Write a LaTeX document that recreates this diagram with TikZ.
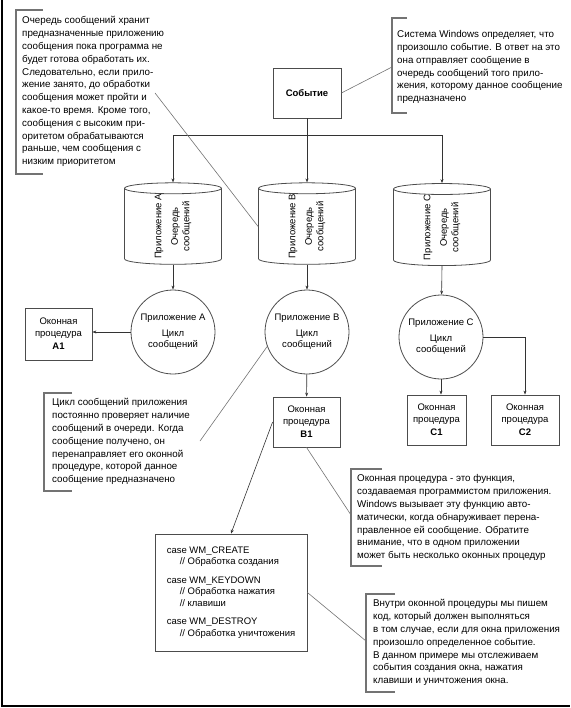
\documentclass[tikz,border=0pt]{standalone}
\usepackage{fontspec}
\setmainfont{Liberation Sans}
\usetikzlibrary{shapes.geometric,arrows.meta}
\tikzset{box/.style={draw=black!70, line width=.8pt, align=center, inner sep=0pt}}
\tikzset{proc/.style={box, minimum height=50pt}}
\tikzset{loop/.style={draw=black!70, line width=.8pt, circle, minimum size=84pt, inner sep=0pt, align=center}}
\tikzset{queue/.style={draw=black!70, line width=.8pt, cylinder, rotate=90, minimum width=97pt, minimum height=59pt, aspect=.3, inner sep=0pt, align=center}}
\tikzset{note/.style={anchor=north west, inner sep=0pt, align=left, font=\fontsize{9.8}{12.8}\selectfont}}
\tikzset{bracket/.style={draw=black!55, line width=1.3pt}}
\tikzset{callout/.style={draw=black!55, line width=.6pt}}
\tikzset{edge/.style={draw=black!80, line width=.6pt, -{Stealth[length=4pt,width=3pt]}}}

\begin{document}
\begin{tikzpicture}[x=1pt, y=-1pt, font=\fontsize{9.5}{11.5}\selectfont]
  \useasboundingbox (0,0) rectangle (570,708);
  \draw[line width=1.5pt] (2,0) -- (2,706) -- (570,706);

  \node[box, minimum width=68pt, minimum height=50pt] (event) at (307,93) {\textbf{Событие}};
  \coordinate (bar) at (0,135);

  \node[queue] (qA) at (173,226.5) {Приложение A\\[5pt]Очередь\\сообщений};
  \node[queue] (qB) at (307,226.5) {Приложение B\\[5pt]Очередь\\сообщений};
  \node[queue] (qC) at (442,227.5) {Приложение C\\[5pt]Очередь\\сообщений};

  \node[loop] (loopA) at (173,332) {Приложение A\\[4pt]Цикл\\сообщений};
  \node[loop] (loopB) at (307,332) {Приложение B\\[4pt]Цикл\\сообщений};
  \node[loop] (loopC) at (441,337) {Приложение C\\[4pt]Цикл\\сообщений};

  \node[proc, minimum width=67pt, minimum height=52pt] (procA1) at (58.5,334) {Оконная\\процедура\\[2pt]\textbf{A1}};
  \node[proc, minimum width=67pt] (procB1) at (306.5,422) {Оконная\\процедура\\[2pt]\textbf{B1}};
  \node[proc, minimum width=59pt] (procC1) at (436.5,420) {Оконная\\процедура\\[2pt]\textbf{C1}};
  \node[proc, minimum width=68pt] (procC2) at (525,420) {Оконная\\процедура\\[2pt]\textbf{C2}};

  \node[box, minimum width=152pt, minimum height=117pt, align=left] (code) at (231,592.5)
    {case WM\_CREATE\\\hspace*{13pt}// Обработка создания\\[7pt]
     case WM\_KEYDOWN\\\hspace*{13pt}// Обработка нажатия\\\hspace*{13pt}// клавиши\\[7pt]
     case WM\_DESTROY\\\hspace*{13pt}// Обработка уничтожения};

  \draw[edge] (event.south) -- (qB.top);
  \draw[edge] (event.south) -- (event.south |- bar) -| (qA.top);
  \draw[edge] (event.south) -- (event.south |- bar) -| (qC.top);
  \draw[edge] (qA.bottom) -- (loopA);
  \draw[edge] (qB.bottom) -- (loopB);
  \draw[edge] (qC.bottom) -- (loopC);
  \draw[edge] (loopA.west) -- (procA1.east |- loopA.west);
  \draw[edge] (loopB) -- (procB1);
  \draw[edge] (loopC.south) -- (procC1.north -| loopC.south);
  \draw[edge] (loopC.east) -| (procC2.north);
  \draw[edge] (procB1.west) -- (code.north);

  \node[note] (noteQueue) at (22,16.5) {Очередь сообщений хранит\\предназначенные приложению\\сообщения пока программа не\\будет готова обработать их.\\Следовательно, если прило-\\жение занято, до обработки\\сообщения может пройти и\\какое-то время. Кроме того,\\сообщения с высоким при-\\оритетом обрабатываются\\раньше, чем сообщения с\\низким приоритетом};
  \draw[bracket] (43,10) -- (16,10) -- (16,174) -- (43,174);
  \coordinate (tipQueue) at (155,93);
  \draw[callout] (tipQueue) -- (qB.north);

  \node[note] (noteEvent) at (397,30.5) {Система Windows определяет, что\\произошло событие. В ответ на это\\она отправляет сообщение в\\очередь сообщений того прило-\\жения, которому данное сообщение\\предназначено};
  \draw[bracket] (407,18) -- (392,18) -- (392,113) -- (407,113);
  \coordinate (tipEvent) at (392,67);
  \draw[callout] (event.east) -- (tipEvent);

  \node[note] (noteLoop) at (52,398.5) {Цикл сообщений приложения\\постоянно проверяет наличие\\сообщений в очереди. Когда\\сообщение получено, он\\перенаправляет его оконной\\процедуре, которой данное\\сообщение предназначено};
  \draw[bracket] (72,393) -- (44,393) -- (44,491) -- (72,491);
  \coordinate (tipLoop) at (200,441);
  \draw[callout] (tipLoop) -- (loopB.200);

  \node[note] (noteProc) at (357,474.5) {Оконная процедура - это функция,\\создаваемая программистом приложения.\\Windows вызывает эту функцию авто-\\матически, когда обнаруживает перена-\\правленное ей сообщение. Обратите\\внимание, что в одном приложении\\может быть несколько оконных процедур};
  \draw[bracket] (382,469) -- (351,469) -- (351,566) -- (382,566);
  \coordinate (tipProc) at (351,515);
  \draw[callout] (procB1.south) -- (tipProc);

  \node[note] (noteCode) at (373,599.5) {Внутри оконной процедуры мы пишем\\код, который должен выполняться\\в том случае, если для окна приложения\\произошло определенное событие.\\В данном примере мы отслеживаем\\события создания окна, нажатия\\клавиши и уничтожения окна.};
  \draw[bracket] (395,594) -- (366,594) -- (366,692) -- (395,692);
  \coordinate (tipCode) at (366,641);
  \draw[callout] (code.east) -- (tipCode);
\end{tikzpicture}
\end{document}
